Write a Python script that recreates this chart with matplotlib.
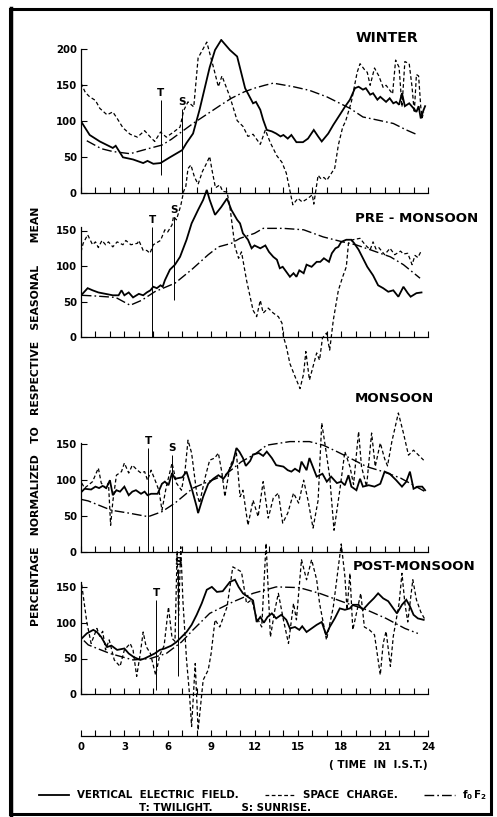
import matplotlib
matplotlib.use('Agg')
import matplotlib.pyplot as plt
from matplotlib.lines import Line2D
from matplotlib.patches import Rectangle

plt.rcParams['font.family'] = ['DejaVu Sans']
plt.rcParams['font.weight'] = 'bold'

# ---------------- data ----------------
hours = list(range(25))
hour_labels = [str(h) if h % 3 == 0 else '' for h in hours]

# WINTER
w_ef_t = [0, 0.6, 1.3, 2.2, 2.4, 2.9, 3.6, 4.3, 4.6, 5.0, 5.5, 6.15, 7.0, 7.3, 7.75, 8.2, 8.9, 9.27, 9.7, 10.3,
          10.8, 11.35, 11.9, 12.1, 12.4, 12.6, 12.85, 13.2, 13.5, 13.8, 14.0, 14.3, 14.55, 14.9, 15.35, 15.7, 16.1,
          16.4, 16.65, 17.1, 17.45, 17.9, 18.25, 18.6, 18.95, 19.2, 19.5, 19.7, 20.0, 20.2, 20.5, 20.7, 21.1, 21.35,
          21.6, 21.8, 22.0, 22.2, 22.4, 22.7, 23.0, 23.2, 23.35, 23.5, 23.7, 23.8]
w_ef_v = [100, 81, 72, 63, 66, 50, 47, 42, 45, 41, 42, 50, 60, 70, 83, 116, 175, 199, 213, 199,
          190, 146, 125, 127, 116, 102, 88, 86, 83, 79, 81, 76, 81, 71, 71, 76, 88,
          79, 72, 83, 95, 109, 120, 130, 146, 148, 144, 146, 137, 139, 130, 134, 127, 132,
          125, 127, 123, 139, 121, 125, 118, 113, 121, 104, 116, 121]
w_sc_t = [0, 0.3, 0.6, 1.0, 1.3, 1.8, 2.2, 2.5, 2.9, 3.4, 3.9, 4.4, 4.8, 5.1, 5.5, 5.9, 6.4, 6.85, 7.1, 7.4,
          7.8, 8.1, 8.7, 9.2, 9.5, 9.75, 10.3, 10.8, 11.2, 11.55, 11.9, 12.4, 12.75, 13.1, 13.55, 13.9, 14.2,
          14.65, 15.0, 15.3, 15.7, 16.0, 16.1, 16.4, 16.6, 16.8, 17.0, 17.55, 17.8, 18.1, 18.3, 18.7, 19.1, 19.3,
          19.6, 19.8, 20.0, 20.3, 20.6, 20.9, 21.1, 21.55, 21.76, 22.0, 22.2, 22.4, 22.7, 22.9, 23.05, 23.2,
          23.35, 23.5, 23.6, 23.7]
w_sc_v = [153, 140, 134, 129, 118, 109, 113, 104, 91, 82, 78, 87, 78, 72, 85, 78, 85, 92, 115, 127,
          120, 188, 210, 172, 148, 163, 134, 101, 93, 79, 82, 68, 88, 70, 52, 43, 28,
          -16, -7, -12, -7, -2, -15, 25, 20, 22, 18, 35, 67, 92, 100, 127, 168, 180,
          172, 168, 150, 174, 163, 147, 150, 138, 185, 175, 120, 183, 180, 147, 112, 165,
          163, 120, 105, 113]
w_f_t = [0.4, 1.4, 2.2, 3.4, 4.65, 5.6, 6.25, 7.0, 7.75, 8.8, 9.7, 10.4, 11.3, 12.0, 12.7, 13.3, 14.7, 15.8,
         17.0, 17.9, 18.6, 19.5, 20.45, 21.6, 22.5, 23.3]
w_f_v = [73, 62, 58, 55, 62, 67, 75, 86, 97, 111, 123, 132, 141, 146, 150, 153, 148, 143,
         134, 125, 118, 106, 102, 97, 88, 81]

# PRE-MONSOON
p_ef_t = [0, 0.1, 0.46, 0.8, 1.2, 1.7, 2.2, 2.6, 2.8, 3.0, 3.3, 3.6, 4.0, 4.3, 4.55, 4.8, 5.0, 5.25, 5.5, 5.65,
          5.8, 6.15, 6.5, 6.85, 7.3, 7.65, 8.1, 8.45, 8.7, 8.9, 9.27, 9.7, 10.1, 10.4, 10.8, 11.0, 11.2, 11.55,
          11.8, 12.0, 12.4, 12.75, 13.0, 13.3, 13.55, 13.75, 13.95, 14.2, 14.45, 14.7, 14.9, 15.1, 15.4, 15.6,
          15.95, 16.3, 16.55, 16.8, 17.15, 17.35, 17.6, 17.8, 18.0, 18.35, 18.7, 18.9, 19.2, 19.5, 19.8, 20.2,
          20.55, 20.9, 21.25, 21.6, 21.95, 22.3, 22.6, 22.8, 23.2, 23.55]
p_ef_v = [59, 61, 69, 66, 63, 61, 59, 59, 66, 59, 63, 56, 61, 59, 63, 66, 71, 69, 73, 71,
          80, 95, 102, 113, 137, 160, 179, 193, 207, 193, 172, 183, 195, 179, 165, 160, 146, 137,
          125, 129, 125, 129, 120, 113, 109, 97, 99, 92, 85, 90, 85, 94, 90, 102,
          99, 106, 106, 111, 106, 118, 125, 127, 134, 137, 137, 132, 123, 111, 99, 87,
          73, 69, 64, 66, 57, 71, 62, 57, 62, 63]
p_sc_t = [0, 0.15, 0.46, 0.8, 1.0, 1.2, 1.45, 1.7, 1.9, 2.2, 2.5, 2.9, 3.1, 3.45, 3.9, 4.0, 4.3, 4.55, 4.77,
          5.0, 5.5, 5.8, 6.0, 6.3, 6.4, 6.6, 6.9, 7.1, 7.25, 7.4, 7.6, 7.85, 8.1, 8.4, 8.7, 8.9, 9.05, 9.3,
          9.6, 9.8, 10.1, 10.3, 10.65, 10.9, 11.1, 11.45, 11.9, 12.15, 12.4, 12.6, 12.95, 13.3, 13.65, 13.9,
          14.0, 14.2, 14.45, 14.8, 15.15, 15.4, 15.55, 15.8, 16.05, 16.3, 16.5, 16.7, 16.98, 17.2, 17.45,
          17.8, 18.1, 18.35, 18.5, 18.8, 19.3, 19.65, 20.0, 20.2, 20.4, 20.6, 21.0, 21.37, 21.7, 22.1,
          22.3, 22.6, 22.9, 23.1, 23.3, 23.55]
p_sc_v = [120, 132, 144, 130, 134, 126, 136, 130, 134, 127, 134, 130, 136, 130, 132, 136, 122, 122, 118,
          130, 136, 151, 148, 158, 170, 165, 185, 205, 212, 237, 242, 225, 215, 233, 245, 254, 236, 210,
          214, 205, 204, 183, 127, 111, 120, 80, 38, 29, 52, 34, 41, 34, 29, 20,
          1, -13, -37, -55, -72, -51, -20, -60, -41, -22, -32, -1, 6, -18, 24,
          66, 85, 99, 132, 137, 139, 130, 123, 134, 124, 126, 116, 125, 116, 121,
          117, 118, 102, 115, 112, 122]
p_f_t = [0.05, 1.0, 2.4, 3.4, 4.2, 5.1, 6.5, 7.65, 8.8, 9.5, 10.4, 11.0, 12.0, 12.6, 14.0, 15.4, 16.75,
         18.1, 19.0, 20.0, 21.4, 22.3, 23.45]
p_f_v = [59, 58, 56, 45, 52, 64, 76, 95, 116, 127, 132, 139, 146, 153, 153, 151, 141,
         134, 130, 123, 113, 102, 83]

# MONSOON
m_ef_t = [0.05, 0.25, 0.7, 1.0, 1.25, 1.5, 1.75, 2.0, 2.2, 2.45, 2.7, 3.0, 3.3, 3.55, 3.8, 4.15, 4.4, 4.6,
          4.85, 5.3, 5.6, 5.8, 6.05, 6.3, 6.5, 7.0, 7.3, 7.65, 8.0, 8.1, 8.45, 8.8, 9.15, 9.5, 9.85, 10.2,
          10.5, 10.75, 10.95, 11.2, 11.4, 11.7, 11.9, 12.3, 12.6, 12.85, 13.2, 13.5, 14.0, 14.3, 14.55, 14.8,
          15.1, 15.25, 15.6, 15.8, 16.3, 16.7, 17.0, 17.3, 17.7, 18.0, 18.25, 18.5, 18.7, 19.05, 19.3, 19.5,
          19.9, 20.3, 20.7, 21.0, 21.35, 21.8, 22.2, 22.5, 22.75, 23.0, 23.3, 23.6, 23.8]
m_ef_v = [84, 88, 87, 91, 89, 92, 89, 100, 79, 86, 84, 91, 79, 84, 86, 81, 84, 79,
          81, 81, 95, 98, 93, 110, 102, 104, 112, 89, 63, 54, 77, 95, 102, 107, 102, 112,
          124, 145, 140, 131, 120, 127, 136, 138, 134, 140, 131, 121, 119, 114, 112, 116,
          112, 126, 114, 131, 105, 109, 98, 105, 96, 98, 93, 107, 91, 86, 102, 91,
          93, 91, 95, 112, 109, 100, 91, 98, 112, 88, 91, 91, 86]
m_sc_t = [0.05, 0.25, 0.5, 0.8, 1.2, 1.4, 1.7, 1.9, 2.05, 2.2, 2.45, 2.8, 3.0, 3.3, 3.55, 3.9, 4.15, 4.4,
          4.6, 4.85, 5.2, 5.4, 5.6, 5.9, 6.3, 6.6, 6.95, 7.2, 7.4, 7.65, 8.0, 8.2, 8.6, 8.9, 9.25, 9.5,
          9.75, 9.95, 10.3, 10.5, 10.75, 11.0, 11.2, 11.55, 11.9, 12.25, 12.6, 12.95, 13.3, 13.65, 13.95,
          14.3, 14.7, 15.05, 15.4, 15.7, 16.05, 16.4, 16.65, 16.9, 17.2, 17.5, 17.9, 18.25, 18.6, 18.85,
          19.2, 19.4, 19.75, 20.1, 20.35, 20.7, 21.0, 21.2, 21.5, 21.95, 22.3, 22.65, 23.0, 23.35, 23.7]
m_sc_v = [96, 89, 93, 98, 117, 96, 89, 96, 37, 70, 107, 112, 124, 110, 121, 114, 110, 112,
          100, 114, 96, 85, 58, 91, 124, 96, 86, 114, 156, 138, 82, 68, 105, 128, 131, 138,
          110, 77, 119, 128, 138, 77, 86, 37, 72, 49, 98, 47, 75, 82, 40,
          54, 82, 68, 100, 72, 33, 72, 180, 147, 105, 30, 86, 140, 119, 94,
          168, 119, 91, 166, 119, 152, 130, 120, 154, 194, 166, 135, 142, 135, 128]
m_f_t = [0.05, 0.5, 2.1, 3.3, 4.65, 5.6, 6.5, 7.75, 8.8, 9.95, 11.1, 12.0, 12.85, 14.45, 15.8, 16.75, 17.7,
         18.6, 19.75, 20.9, 22.1, 23.0, 23.8]
m_f_v = [73, 71, 58, 54, 49, 56, 68, 89, 98, 107, 126, 136, 149, 154, 154, 149, 140,
         131, 119, 112, 103, 93, 84]

# POST-MONSOON
q_ef_t = [0.05, 0.4, 0.85, 1.1, 1.4, 1.8, 2.1, 2.5, 3.0, 3.3, 3.65, 4.1, 4.4, 4.6, 5.1, 5.45, 5.8, 6.25, 6.6,
          6.95, 7.3, 7.65, 8.0, 8.35, 8.7, 9.05, 9.4, 9.8, 10.3, 10.65, 10.9, 11.2, 11.55, 11.9, 12.15, 12.4,
          12.65, 12.9, 13.2, 13.5, 13.85, 14.2, 14.45, 14.8, 15.1, 15.3, 15.6, 15.95, 16.3, 16.65, 16.95,
          17.2, 17.55, 17.9, 18.25, 18.6, 18.8, 19.2, 19.5, 19.9, 20.25, 20.55, 20.9, 21.25, 21.6, 21.85,
          22.2, 22.5, 22.75, 23.0, 23.3, 23.7]
q_ef_v = [78, 85, 90, 87, 80, 66, 68, 62, 64, 57, 52, 48, 50, 52, 57, 62, 64, 68, 73,
          80, 87, 97, 111, 127, 146, 150, 143, 144, 157, 160, 150, 141, 136, 131, 101, 108,
          100, 108, 113, 106, 111, 104, 92, 94, 90, 95, 87, 92, 97, 101, 83,
          94, 106, 120, 118, 120, 125, 125, 118, 127, 134, 141, 134, 130, 120, 113,
          125, 132, 123, 111, 106, 104]
q_sc_t = [0.05, 0.4, 0.7, 1.1, 1.3, 1.5, 1.7, 1.95, 2.3, 2.7, 3.0, 3.4, 3.6, 3.85, 4.1, 4.3, 4.5, 4.8, 5.16,
          5.45, 5.75, 6.05, 6.3, 6.5, 6.65, 6.75, 6.9, 7.05, 7.3, 7.5, 7.65, 7.9, 8.1, 8.45, 8.8, 9.0, 9.27,
          9.6, 10.1, 10.5, 11.1, 11.45, 11.8, 12.1, 12.5, 12.8, 13.1, 13.4, 13.65, 14.0, 14.35, 14.7, 14.9,
          15.25, 15.6, 15.95, 16.3, 16.5, 16.98, 17.45, 18.0, 18.25, 18.4, 18.6, 18.8, 19.2, 19.35, 19.6,
          19.95, 20.3, 20.55, 20.7, 20.9, 21.1, 21.4, 21.6, 22.0, 22.2, 22.4, 22.6, 22.95, 23.2, 23.5, 23.8]
q_sc_v = [153, 101, 71, 92, 81, 88, 62, 76, 48, 39, 62, 71, 62, 25, 57, 87, 67, 57, 27,
          55, 68, 122, 78, 74, 200, 110, 206, 130, 48, 1, -45, 43, -50, 20, 34, 57, 104,
          94, 122, 178, 171, 127, 132, 110, 94, 211, 80, 117, 141, 104, 71, 127, 104,
          188, 160, 188, 160, 127, 76, 122, 210, 165, 118, 169, 90, 127, 141, 94,
          90, 83, 48, 27, 71, 88, 39, 81, 127, 169, 127, 101, 160, 132, 115, 104]
q_f_t = [0.2, 0.5, 2.0, 3.6, 4.8, 5.9, 6.95, 7.75, 8.9, 10.5, 11.9, 13.5, 15.1, 16.5, 18.4, 19.75, 21.1,
         22.4, 23.3]
q_f_v = [75, 69, 57, 48, 50, 57, 73, 90, 113, 129, 141, 150, 149, 141, 127, 118, 106,
         92, 85]

# twilight (T) and sunrise (S) markers: time, line from, line to
w_T = (5.53, 25, 130); w_S = (7.0, 0, 117)
p_T = (4.93, 0, 155); p_S = (6.45, 52, 169)
m_T = (4.66, 0, 145); m_S = (6.29, 0, 135)
q_T = (5.19, 6, 132); q_S = (6.73, 25, 175)

titles = ['WINTER', 'PRE - MONSOON', 'MONSOON', 'POST-MONSOON']

# ---------------- figure ----------------
W, H = 497, 817
fig = plt.figure(figsize=(W / 100, H / 100), dpi=100)

X0, X1 = 81, 428
K = 'black'
SOLID = dict(color=K, lw=1.3, ls='-', solid_joinstyle='miter')
DASH = dict(color=K, lw=0.9, ls=(0, (3.0, 2.0)))
DDOT = dict(color=K, lw=1.0, ls=(0, (7, 2.2, 1.2, 2.2)))


def panel(zero_px, ppu, ylim, spine_top, yticks, zero_bottom=True):
    ymin, ymax = ylim
    top = zero_px - ppu * ymax
    bot = zero_px - ppu * ymin
    ax = fig.add_axes([X0 / W, 1 - bot / H, (X1 - X0) / W, (bot - top) / H])
    ax.set_xlim(0, 24)
    ax.set_ylim(ymin, ymax)
    ax.patch.set_visible(False)
    for s in ('top', 'right'):
        ax.spines[s].set_visible(False)
    ax.spines['left'].set_bounds(0, spine_top)
    ax.spines['left'].set_linewidth(0.9)
    ax.spines['bottom'].set_linewidth(0.9)
    if zero_bottom:
        ax.spines['bottom'].set_position(('data', 0))
    ax.set_yticks(yticks)
    ax.set_yticklabels([str(v) for v in yticks])
    ax.set_xticks(hours)
    ax.set_xticklabels([])
    ax.tick_params(axis='both', direction='in', length=4, width=0.8, labelsize=7.3, pad=3)
    for lab in ax.get_yticklabels():
        lab.set_fontweight('bold')
    return ax


def draw(ax, ef, sc, f, T, S):
    ax.plot(f[0], f[1], **DDOT)
    ax.plot(sc[0], sc[1], **DASH)
    ax.plot(ef[0], ef[1], **SOLID)
    for (t, a, b), lab in ((T, 'T'), (S, 'S')):
        ax.vlines(t, a, b, color=K, lw=0.7)
        ax.text(t, b + 3, lab, ha='center', va='bottom', fontsize=7.5, fontweight='bold')


ax_w = panel(193.3, 0.72, (-25, 215), 200, [0, 50, 100, 150, 200])
draw(ax_w, (w_ef_t, w_ef_v), (w_sc_t, w_sc_v), (w_f_t, w_f_v), w_T, w_S)

ax_p = panel(337.3, 0.712, (-80, 262), 155, [0, 50, 100, 150])
draw(ax_p, (p_ef_t, p_ef_v), (p_sc_t, p_sc_v), (p_f_t, p_f_v), p_T, p_S)

ax_m = panel(551.7, 0.715, (-10, 200), 152, [0, 50, 100, 150])
draw(ax_m, (m_ef_t, m_ef_v), (m_sc_t, m_sc_v), (m_f_t, m_f_v), m_T, m_S)

ax_q = panel(694.3, 0.716, (-58.2, 215), 157, [0, 50, 100, 150], zero_bottom=False)
draw(ax_q, (q_ef_t, q_ef_v), (q_sc_t, q_sc_v), (q_f_t, q_f_v), q_T, q_S)
ax_q.set_xticks(hours)
ax_q.set_xticklabels(hour_labels)
ax_q.tick_params(axis='x', labelsize=7.3, pad=4)
for lab in ax_q.get_xticklabels():
    lab.set_fontweight('bold')
loc0 = (0 - (-58.2)) / (215 - (-58.2))
sec = ax_q.secondary_xaxis(loc0)
sec.set_xticks(hours)
sec.tick_params(direction='in', length=4, width=0.8, labelbottom=False, labeltop=False)
for sp in sec.spines.values():
    sp.set_linewidth(0.9)


def ftext(x, y, s, **kw):
    fig.text(x / W, 1 - y / H, s, **kw)


ftext(418, 38, titles[0], ha='right', va='center', fontsize=10.2, fontweight='bold')
ftext(355, 218, titles[1], ha='left', va='center', fontsize=9.6, fontweight='bold')
ftext(355, 399, titles[2], ha='left', va='center', fontsize=9.6, fontweight='bold')
ftext(353, 567, titles[3], ha='left', va='center', fontsize=9.6, fontweight='bold')

ftext(36, 416, 'PERCENTAGE   NORMALIZED   TO   RESPECTIVE   SEASONAL      MEAN',
      rotation=90, ha='center', va='center', fontsize=7.8, fontweight='bold')
ftext(378, 765, '( TIME  IN  I.S.T.)', ha='center', va='center', fontsize=7.6, fontweight='bold')

handles = [Line2D([], [], **SOLID), Line2D([], [], **DASH), Line2D([], [], **DDOT)]
labels = ['VERTICAL  ELECTRIC  FIELD.', 'SPACE  CHARGE.', r'$\mathbf{f_0\,F_2}$']
fig.legend(handles, labels, loc='center', bbox_to_anchor=(263 / W, 1 - 795 / H), ncol=3,
           frameon=False, handlelength=3.0, handletextpad=0.7, columnspacing=2.6,
           borderpad=0, prop={'weight': 'bold', 'size': 7.4})
ftext(225, 808, 'T: TWILIGHT.        S: SUNRISE.', ha='center', va='center', fontsize=7.4,
      fontweight='bold')

fig.add_artist(Rectangle((9.5 / W, 1 - 814 / H), (490.5 - 9.5) / W, (814 - 8.5) / H,
                         transform=fig.transFigure, fill=False, lw=2.2, color=K))
fig.add_artist(Line2D([10.5 / W, 10.5 / W], [1 - 8 / H, 1 - 815 / H], transform=fig.transFigure,
                      lw=2.5, color=K))

fig.savefig('out.png', dpi=100)
